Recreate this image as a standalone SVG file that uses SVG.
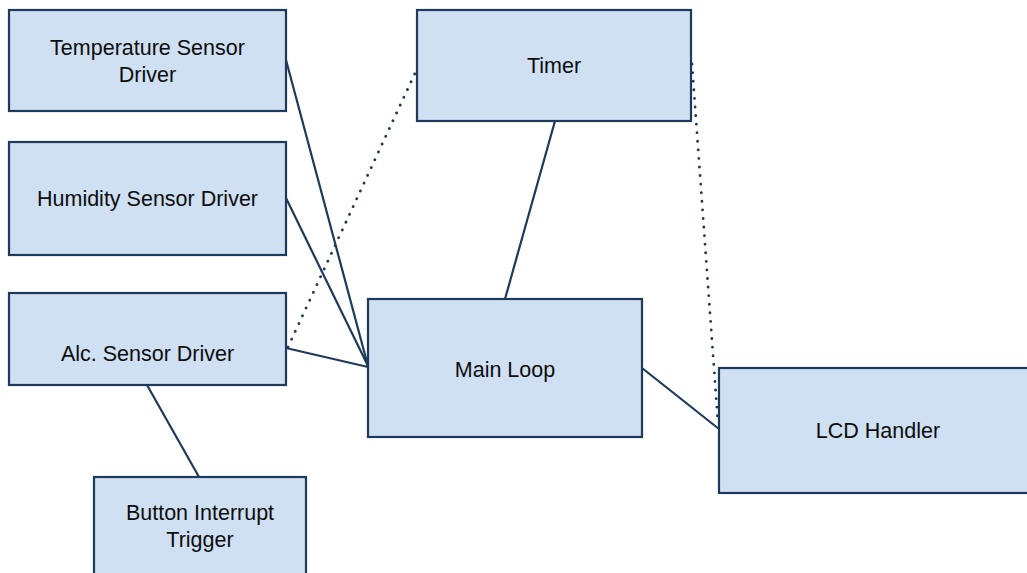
<svg xmlns="http://www.w3.org/2000/svg" width="1027" height="573" viewBox="0 0 1027 573">
  <style>
    .box { fill: #cfe0f2; stroke: #1e3a5a; stroke-width: 2.2; }
    .lbl { font-family: "Liberation Sans", Arial, sans-serif; font-size: 21.5px; fill: #0d0d0d; text-anchor: middle; }
    .link { stroke: #1e3a5a; stroke-width: 2.2; fill: none; }
    .dot { stroke: #1e3a5a; stroke-width: 2.8; fill: none; stroke-linecap: round; stroke-dasharray: 0.1 8.5; }
  </style>
  <rect width="1027" height="573" fill="#ffffff"/>

  <g id="connectors">
    <line class="link" x1="286" y1="60" x2="368" y2="366"/>
    <line class="link" x1="286" y1="198" x2="368" y2="366"/>
    <line class="link" x1="286" y1="348" x2="368" y2="367"/>
    <line class="link" x1="555" y1="121" x2="505" y2="299"/>
    <line class="link" x1="642" y1="368" x2="719" y2="429"/>
    <line class="link" x1="147" y1="385" x2="199" y2="477"/>
    <line class="dot" x1="288" y1="347" x2="416" y2="71"/>
    <line class="dot" x1="692" y1="64" x2="718" y2="424"/>
  </g>

  <g id="temperature-sensor-driver">
    <rect class="box" x="9" y="10" width="277" height="101"/>
    <text class="lbl" x="147.5" y="55">Temperature Sensor</text>
    <text class="lbl" x="147.5" y="82">Driver</text>
  </g>

  <g id="humidity-sensor-driver">
    <rect class="box" x="9" y="142" width="277" height="113"/>
    <text class="lbl" x="147.5" y="206">Humidity Sensor Driver</text>
  </g>

  <g id="alc-sensor-driver">
    <rect class="box" x="9" y="293" width="277" height="92"/>
    <text class="lbl" x="147.5" y="361">Alc. Sensor Driver</text>
  </g>

  <g id="button-interrupt-trigger">
    <rect class="box" x="94" y="477" width="212" height="110"/>
    <text class="lbl" x="200" y="520">Button Interrupt</text>
    <text class="lbl" x="200" y="547">Trigger</text>
  </g>

  <g id="timer">
    <rect class="box" x="417" y="10" width="274" height="111"/>
    <text class="lbl" x="554" y="73">Timer</text>
  </g>

  <g id="main-loop">
    <rect class="box" x="368" y="299" width="274" height="138"/>
    <text class="lbl" x="505" y="377">Main Loop</text>
  </g>

  <g id="lcd-handler">
    <rect class="box" x="719" y="368" width="318" height="125"/>
    <text class="lbl" x="878" y="438">LCD Handler</text>
  </g>
</svg>
